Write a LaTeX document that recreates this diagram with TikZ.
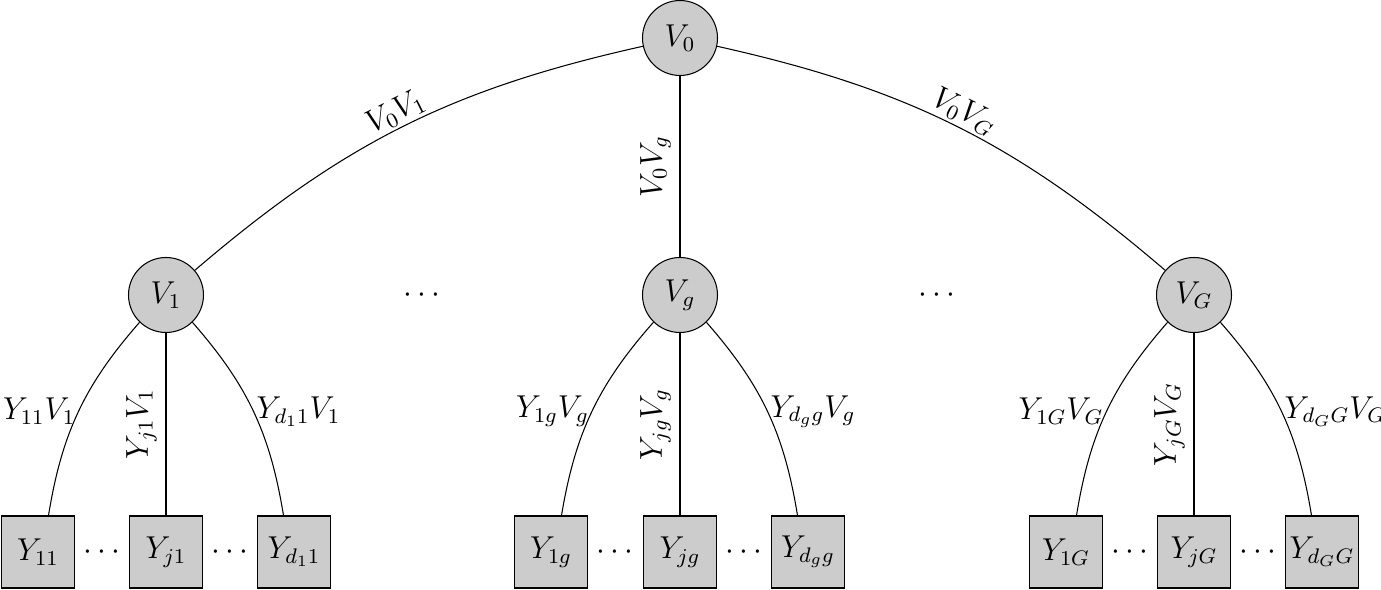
\documentclass[tikz,border=0pt]{standalone}
\begin{document}
\begin{tikzpicture}[x=0.01333cm,y=-0.01333cm,font=\large,
  c/.style={circle,draw,fill=black!20,minimum size=1cm,inner sep=0pt},
  s/.style={rectangle,draw,fill=black!20,minimum width=0.98cm,minimum height=0.96cm,inner sep=0pt}]
\useasboundingbox (0,0) rectangle (1381,590);
\node[c] (v0) at (680,38) {$V_0$};
\node[c] (v1) at (166,295) {$V_1$};
\node[c] (vg) at (680,295) {$V_g$};
\node[c] (vG) at (1194,295) {$V_G$};
\node (d1) at (422,295) {$\cdots$};
\node (d2) at (937,295) {$\cdots$};
\foreach \n/\x/\t in {a1/38/{Y_{11}},a2/166/{Y_{j1}},a3/294/{Y_{d_11}},
  b1/551/{Y_{1g}},b2/680/{Y_{jg}},b3/808/{Y_{d_gg}},
  c1/1066/{Y_{1G}},c2/1194/{Y_{jG}},c3/1322/{Y_{d_GG}}}
  \node[s] (\n) at (\x,552) {$\t$};
\foreach \n/\x in {e1/102,e2/230,e3/615,e4/744,e5/1130,e6/1258}
  \node (\n) at (\x,552) {$\cdots$};
\foreach \n in {a1,a2,a3,b1,b2,b3,c1,c2,c3}{
  \coordinate (\n l) at ([xshift=0.14cm]\n.north);
  \coordinate (\n r) at ([xshift=-0.14cm]\n.north);}
\draw (v0) to[bend right=14] node[sloped,above,pos=0.5,inner sep=1pt] {$V_0V_1$} (v1);
\draw (vg) -- node[sloped,above] {$V_0V_g$} (v0);
\draw (v0) to[bend left=14] node[sloped,above,pos=0.5,inner sep=1pt] {$V_0V_G$} (vG);
\foreach \p/\a/\b/\c/\l in {v1/a1/a2/a3/1, vg/b1/b2/b3/g, vG/c1/c2/c3/G}{
  \draw (\p) to[bend right=16] node[left,pos=0.5,inner sep=1pt] {$Y_{1\l}V_\l$} (\a l);
  \draw (\b) -- node[sloped,above] {$Y_{j\l}V_\l$} (\p);
  \draw (\p) to[bend left=16] node[right,pos=0.5,inner sep=1pt] {$Y_{d_\l\l}V_\l$} (\c r);
}
\end{tikzpicture}
\end{document}
